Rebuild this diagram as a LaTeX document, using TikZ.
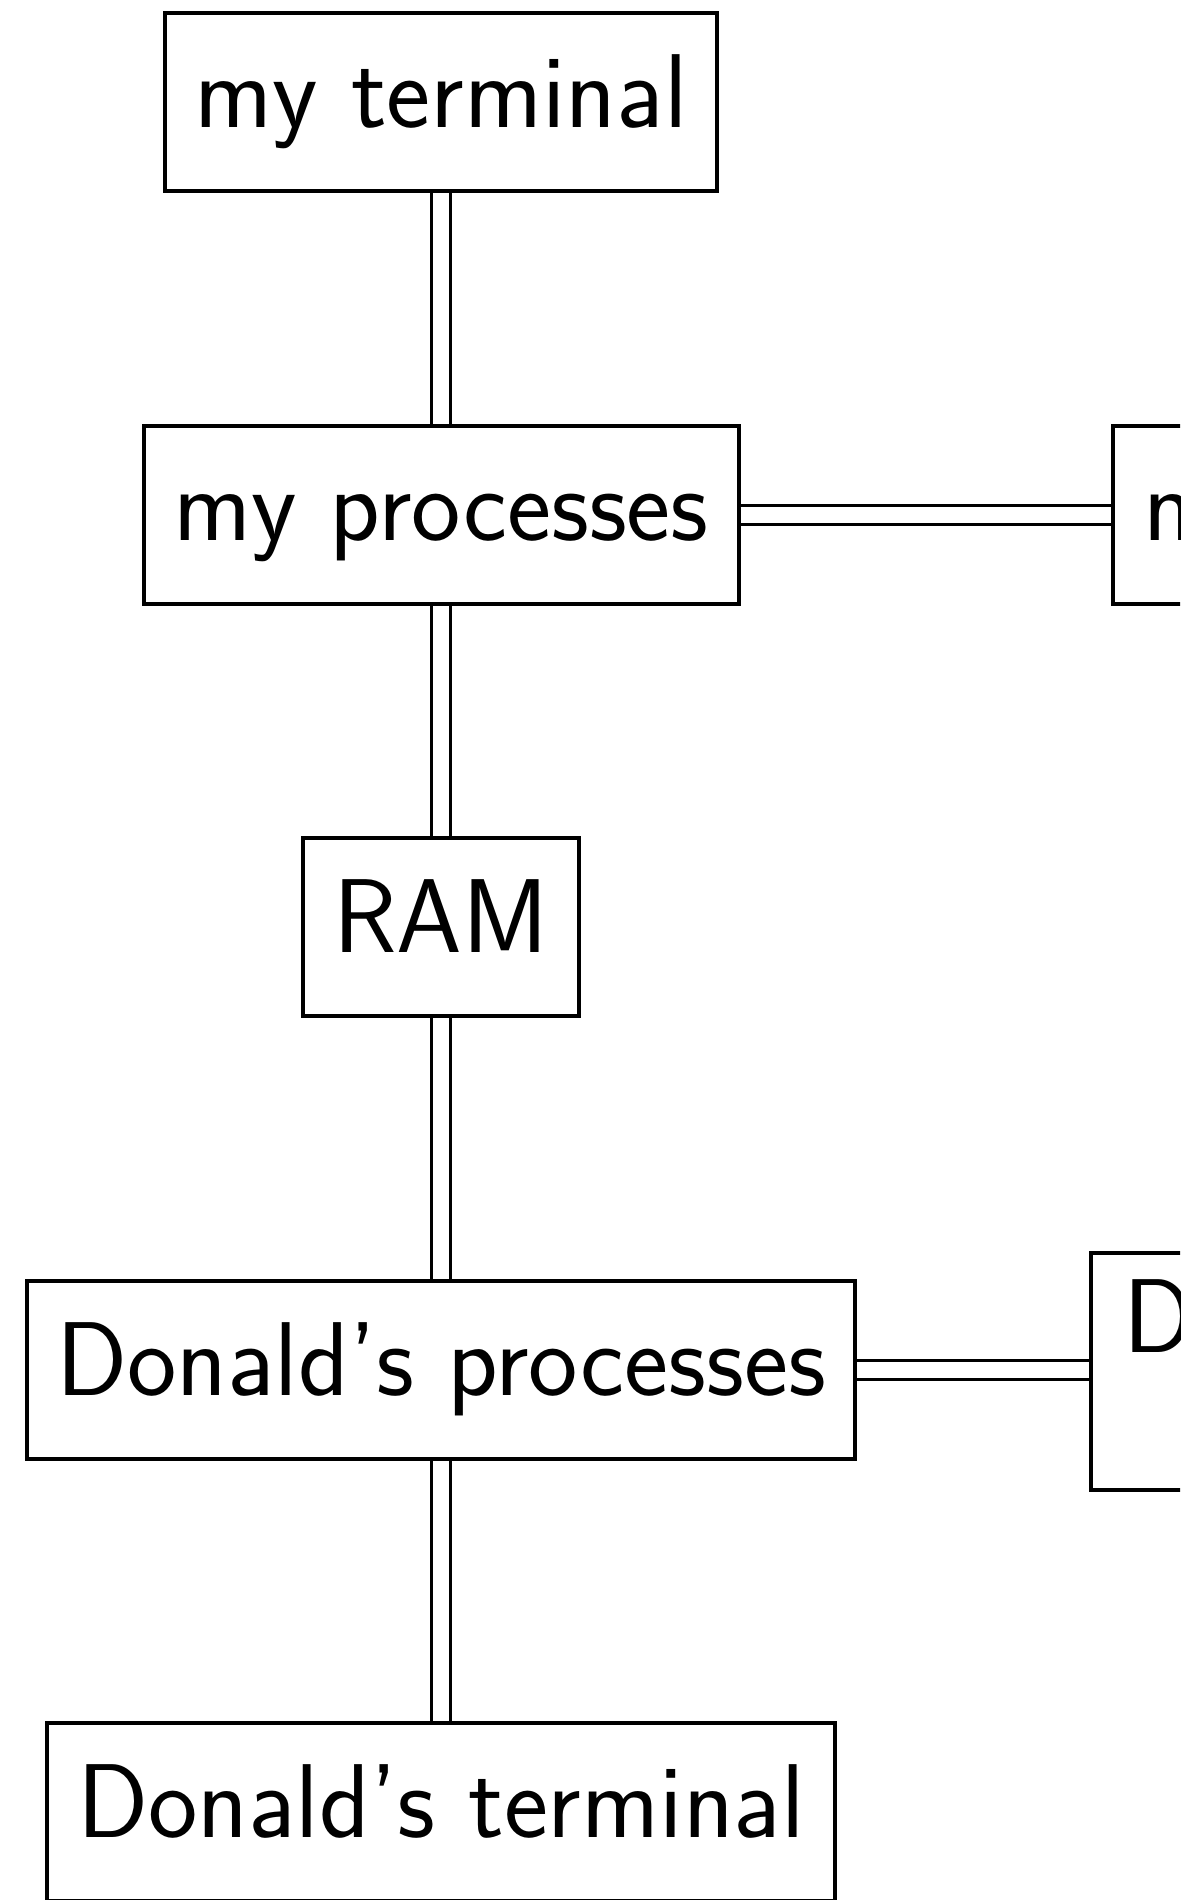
\documentclass[tikz,border=0pt]{standalone}
\usepackage{fontspec}
\begin{document}
\begin{tikzpicture}[x=0.5pt,y=-0.5pt,
  box/.style={draw, line width=2pt, fill=white,
    font=\fontsize{52.5}{63}\selectfont\sffamily,
    inner sep=0pt, text height=37pt, text depth=12pt,
    minimum height=89pt, anchor=center},
  dbl/.style={draw, double, double distance=8pt, line width=1.6pt}]
\useasboundingbox (0,0) rectangle (1180,1900);
\clip (0,0) rectangle (1180,1900);
\node[box, minimum width=276pt] (term1) at (441,102) {my terminal};
\node[box, minimum width=297.5pt] (proc1) at (441,515) {my processes};
\node[box, minimum width=138pt] (ram) at (441,927) {RAM};
\node[box, minimum width=414pt] (proc2) at (441,1370) {Donald's processes};
\node[box, minimum width=394pt] (term2) at (441,1812) {Donald's terminal};
\node[box, anchor=west, inner xsep=15pt] (files1) at (1111,515) {my files};
\node[box, anchor=north west, inner xsep=16pt, inner ysep=0pt,
      text height=49.5pt, text depth=69pt, minimum height=0pt] (files2) at (1089,1251) {Donald's files};
\draw[dbl] (term1.south) -- (proc1.north);
\draw[dbl] (proc1.south) -- (ram.north);
\draw[dbl] (ram.south) -- (proc2.north);
\draw[dbl] (proc2.south) -- (term2.north);
\draw[dbl] (proc1.east) -- (proc1.east -| files1.west);
\draw[dbl] (proc2.east) -- (proc2.east -| files2.west);
\end{tikzpicture}
\end{document}
